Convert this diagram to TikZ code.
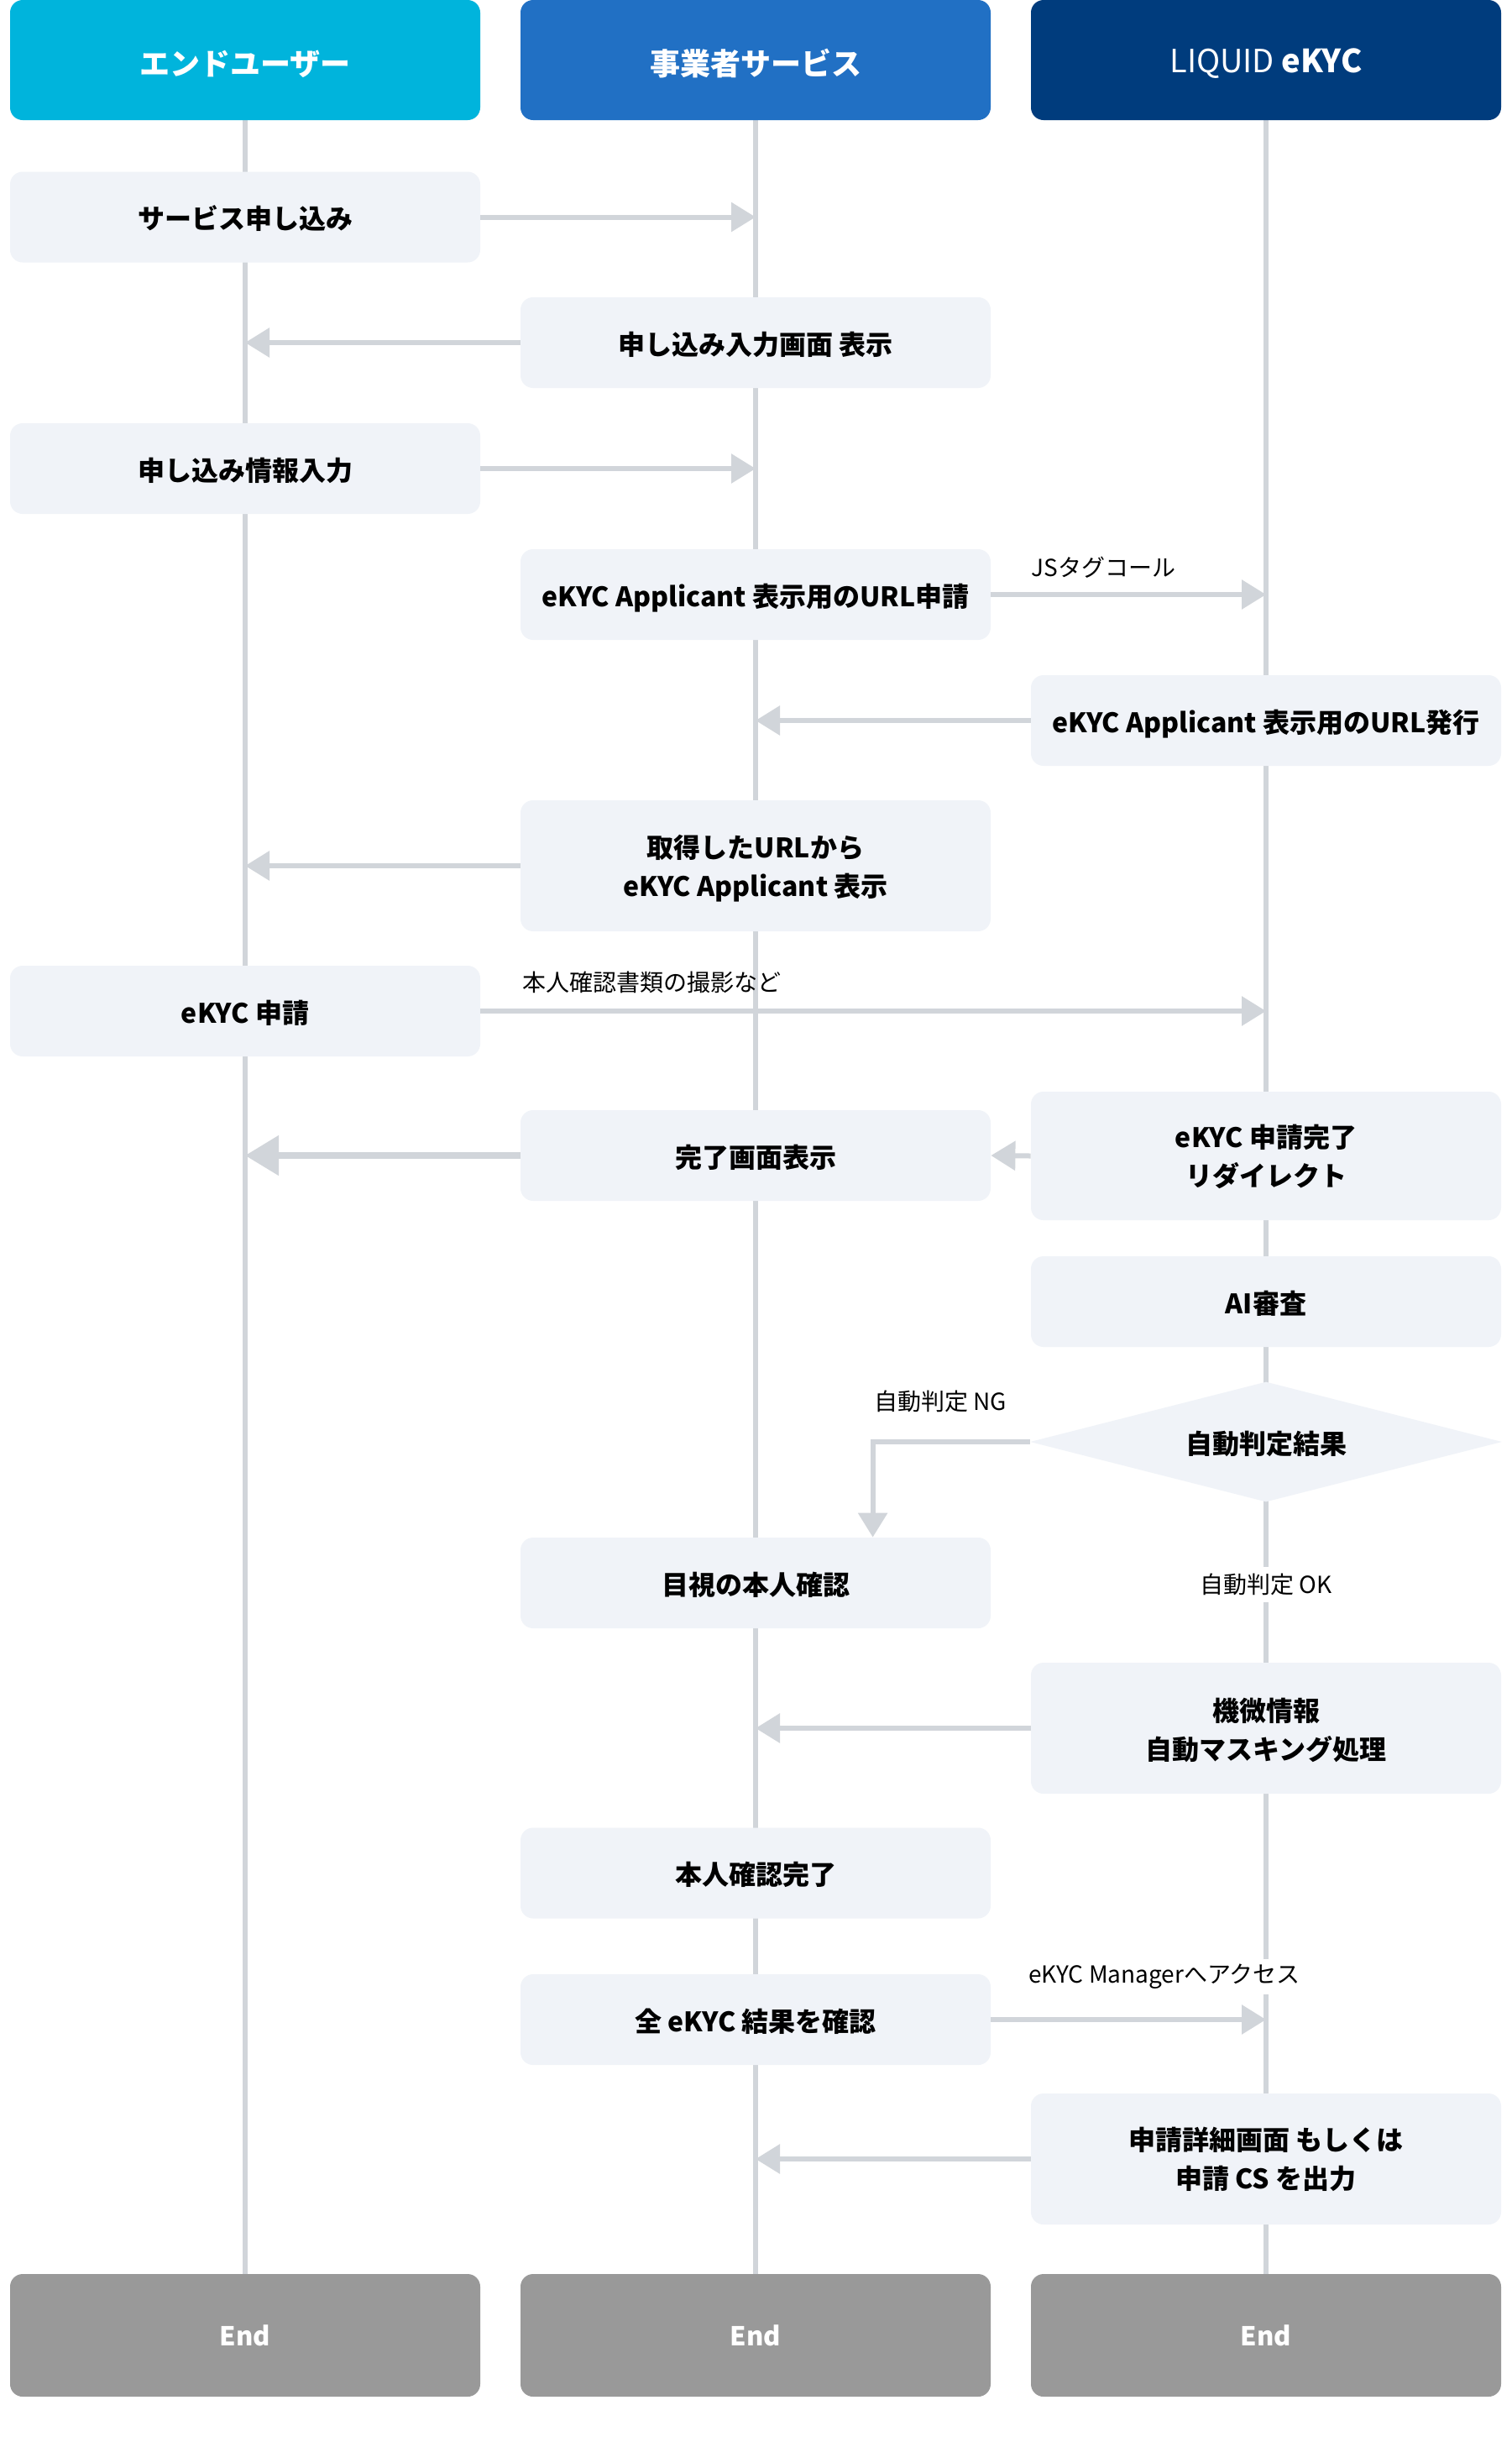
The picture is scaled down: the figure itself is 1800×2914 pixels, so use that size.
\documentclass[tikz,border=0pt]{standalone}
\usepackage{fontspec}
\setmainfont{Noto Sans CJK JP}
\usetikzlibrary{shapes.geometric,arrows.meta,backgrounds,calc}

\definecolor{hcyan}{HTML}{00B4DC}
\definecolor{hblue}{HTML}{2170C4}
\definecolor{hnavy}{HTML}{003C7D}
\definecolor{boxbg}{HTML}{F0F3F8}
\definecolor{lline}{HTML}{D1D5DA}
\definecolor{endgray}{HTML}{999999}

\newcommand\firststrut[1][16.6pt]{\rule{0pt}{#1}}

\tikzset{
 hdr/.style={rounded corners=7.5pt, minimum width=280pt, minimum height=71.5pt, inner sep=0pt, text=white, text height=18.2pt, text depth=0pt, font=\fontsize{18pt}{22pt}\selectfont},
 stepbox/.style={fill=boxbg, rounded corners=7.5pt, minimum width=280pt, minimum height=54pt, inner sep=0pt, align=center, text height=14pt, text depth=0pt, font=\fontsize{16pt}{23pt}\selectfont\bfseries},
 twoline/.style={text height=, text depth=},
 endbox/.style={fill=endgray, rounded corners=7.5pt, minimum width=280pt, minimum height=73pt, inner sep=0pt, text=white, font=\fontsize{15.5pt}{20pt}\selectfont\bfseries},
 lab/.style={font=\fontsize{14pt}{17pt}\selectfont, inner sep=3pt},
 lifeline/.style={draw=lline, line width=3pt},
 arr/.style={draw=lline, line width=3pt, -{Triangle[length=14.5pt,width=17pt]}},
 bigarr/.style={draw=lline, line width=4pt, -{Triangle[length=20pt,width=23pt]}},
}

\begin{document}
\begin{tikzpicture}[x=0.5pt, y=-0.5pt]
\useasboundingbox (0,0) rectangle (1800,2914);

% headers
\node[hdr, fill=hcyan, font=\fontsize{18pt}{22pt}\selectfont\bfseries] (h1) at (292,71.5) {エンドユーザー};
\node[hdr, fill=hblue, font=\fontsize{18pt}{22pt}\selectfont\bfseries] (h2) at (900,71.5) {事業者サービス};
\node[hdr, fill=hnavy, text height=14.6pt, font=\fontsize{19pt}{22pt}\selectfont] (h3) at (1508,71.5) {LIQUID \textbf{eKYC}};

% steps
\node[stepbox] (b1) at (292,258.5) {サービス申し込み};
\node[stepbox] (b2) at (900,408) {申し込み入力画面 表示};
\node[stepbox] (b3) at (292,558) {申し込み情報入力};
\node[stepbox] (b4) at (900,708) {eKYC Applicant 表示用のURL申請};
\node[stepbox] (b5) at (1508,858) {eKYC Applicant 表示用のURL発行};
\node[stepbox, twoline, minimum height=78pt] (b6) at (900,1031) {\firststrut 取得したURLから\\eKYC Applicant 表示};
\node[stepbox] (b7) at (292,1204) {eKYC 申請};
\node[stepbox, twoline, minimum height=76.5pt] (b8) at (1508,1376.5) {\firststrut[14.8pt]eKYC 申請完了\\リダイレクト};
\node[stepbox] (b9) at (900,1376) {完了画面表示};
\node[stepbox] (b10) at (1508,1550) {AI審査};
\node[diamond, shape aspect=4, fill=boxbg, minimum width=281pt, minimum height=71.5pt, inner sep=0pt, text height=14pt, text depth=0pt, font=\fontsize{16pt}{23pt}\selectfont\bfseries] (dia) at (1508,1717) {自動判定結果};
\node[stepbox] (b12) at (900,1885) {目視の本人確認};
\node[stepbox, twoline, minimum height=78pt] (b13) at (1508,2058) {\firststrut 機微情報\\自動マスキング処理};
\node[stepbox] (b14) at (900,2230.5) {本人確認完了};
\node[stepbox] (b15) at (900,2405) {全 eKYC 結果を確認};
\node[stepbox, twoline, minimum height=78pt] (b16) at (1508,2571) {申請詳細画面 もしくは\\申請 CS を出力};

% ends
\node[endbox] (e1) at (292,2781) {End};
\node[endbox] (e2) at (900,2781) {End};
\node[endbox] (e3) at (1508,2781) {End};

% lifelines
\begin{pgfonlayer}{background}
\fill[white] (0,0) rectangle (1800,2914);
\draw[lifeline] (h1.south) -- (e1.north);
\draw[lifeline] (h2.south) -- (e2.north);
\draw[lifeline] (h3.south) -- (e3.north);
\end{pgfonlayer}

% labels
\node[lab, anchor=west] (lbl1) at (1222,676) {JSタグコール};
\node[lab, anchor=west] (lbl2) at (616,1170) {本人確認書類の撮影など};
\node[lab, anchor=west] (lbl3) at (1035,1669) {自動判定 NG};
\node[lab, fill=white, inner sep=4pt] (lbl4) at (1508,1887) {自動判定 OK};
\node[lab, anchor=west, fill=white] (lbl5) at (1219,2354) {eKYC Managerへアクセス};

% connectors
\draw[arr] (b1.east) -- (b1.east -| h2.south);
\draw[arr] (b2.west) -- (b2.west -| h1.south);
\draw[arr] (b3.east) -- (b3.east -| h2.south);
\draw[arr] (b4.east) -- (b4.east -| h3.south);
\draw[arr] (b5.west) -- (b5.west -| h2.south);
\draw[arr] (b6.west) -- (b6.west -| h1.south);
\draw[arr] (b7.east) -- (b7.east -| h3.south);
\draw[arr] (b8.west) -- (b9.east);
\draw[bigarr] (b9.west) -- (b9.west -| h1.south);
\draw[arr] (dia.west) -| ([xshift=210pt]b12.north west);
\draw[arr] (b13.west) -- (b13.west -| h2.south);
\draw[arr] (b15.east) -- (b15.east -| h3.south);
\draw[arr] (b16.west) -- (b16.west -| h2.south);
\end{tikzpicture}
\end{document}
